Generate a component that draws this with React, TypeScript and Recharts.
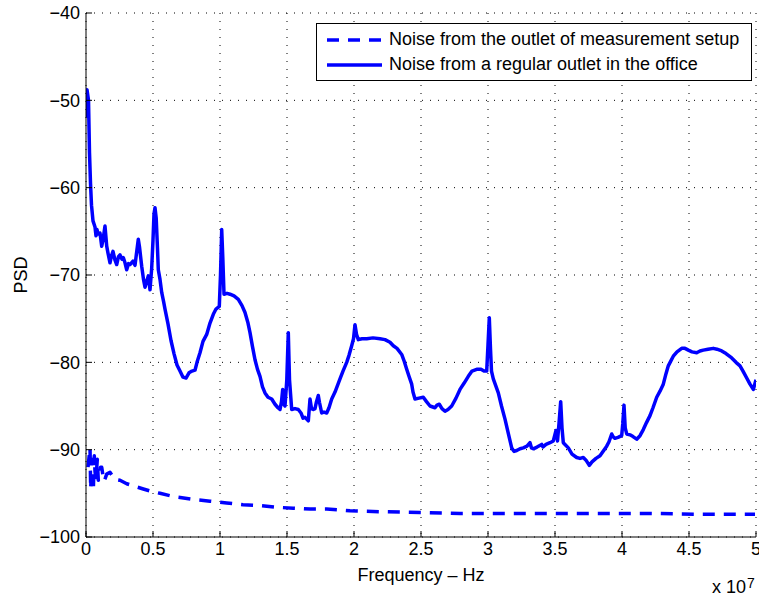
import React from "react";
import {
  LineChart,
  Line,
  XAxis,
  YAxis,
  CartesianGrid,
  Legend,
  Label,
} from "recharts";

const FONT = "'Liberation Sans', Arial, Helvetica, sans-serif";
const BLUE = "#0000ff";

// x in units of 10^7 Hz, as on the axis
const xTicks = [0, 0.5, 1, 1.5, 2, 2.5, 3, 3.5, 4, 4.5, 5];
const yTicks = [-100, -90, -80, -70, -60, -50, -40];

const setupName = "Noise from the outlet of measurement setup";
const officeName = "Noise from a regular outlet in the office";
const legendOrder = [setupName, officeName];

const officeFreq = [
  0, 0.0075, 0.0187, 0.0261, 0.0336, 0.041, 0.0522, 0.0672, 0.0746, 0.0821,
  0.0896, 0.1045, 0.1172, 0.1269, 0.1418, 0.1545, 0.1642, 0.1791, 0.1903, 0.2015,
  0.2164, 0.2291, 0.2425, 0.2537, 0.2687, 0.2784, 0.291, 0.3037, 0.3172, 0.3284,
  0.3507, 0.3657, 0.3769, 0.3903, 0.3993, 0.4157, 0.4291, 0.4403, 0.4515, 0.4649,
  0.4776, 0.4903, 0.5, 0.5075, 0.5149, 0.5239, 0.5336, 0.5396, 0.5522, 0.5649,
  0.5784, 0.5896, 0.6119, 0.6343, 0.6567, 0.6791, 0.7015, 0.7239, 0.7463, 0.7687,
  0.791, 0.8134, 0.8284, 0.8507, 0.8731, 0.9007, 0.9254, 0.95, 0.9701, 0.9948,
  1.0037, 1.0127, 1.0209, 1.0299, 1.0522, 1.0746, 1.1045, 1.1366, 1.1642, 1.1866,
  1.209, 1.2239, 1.2425, 1.2612, 1.2799, 1.2985, 1.3172, 1.3358, 1.3582, 1.3858,
  1.4104, 1.4328, 1.4478, 1.459, 1.4679, 1.4761, 1.4851, 1.4985, 1.5097, 1.5187,
  1.5351, 1.5597, 1.5843, 1.6045, 1.6194, 1.6343, 1.659, 1.6716, 1.6828, 1.6963,
  1.709, 1.7201, 1.7336, 1.7425, 1.759, 1.7761, 1.7963, 1.8134, 1.8336, 1.8582,
  1.8955, 1.9179, 1.9455, 1.9627, 1.9828, 1.9963, 2.0075, 2.0187, 2.0321, 2.0597,
  2.0948, 2.1418, 2.194, 2.2313, 2.2687, 2.2933, 2.3209, 2.356, 2.3731, 2.3933,
  2.4104, 2.4306, 2.4403, 2.4552, 2.4851, 2.5172, 2.541, 2.5672, 2.6045, 2.6194,
  2.6366, 2.6567, 2.6791, 2.7015, 2.7291, 2.7612, 2.791, 2.8209, 2.853, 2.8806,
  2.9157, 2.9478, 2.9701, 2.9903, 3.0, 3.0097, 3.0187, 3.0261, 3.0396, 3.0769,
  3.1007, 3.1269, 3.1493, 3.1769, 3.194, 3.2142, 3.2388, 3.2634, 3.291, 3.3134,
  3.3246, 3.3381, 3.3657, 3.4007, 3.4104, 3.4328, 3.4627, 3.4873, 3.5075, 3.5187,
  3.5299, 3.5425, 3.5522, 3.5619, 3.5746, 3.5993, 3.6269, 3.6619, 3.6866, 3.7112,
  3.7313, 3.756, 3.7761, 3.806, 3.8358, 3.8582, 3.8858, 3.903, 3.9231, 3.9328,
  3.9478, 3.9701, 3.9978, 4.006, 4.0149, 4.0239, 4.0351, 4.0597, 4.0821, 4.1097,
  4.1343, 4.159, 4.1828, 4.209, 4.2313, 4.259, 4.2836, 4.3082, 4.3284, 4.3455,
  4.3657, 4.3828, 4.4104, 4.4455, 4.4701, 4.4948, 4.5224, 4.5575, 4.5821, 4.6067,
  4.6418, 4.6813, 4.709, 4.744, 4.7761, 4.8187, 4.8507, 4.8806, 4.903, 4.9306,
  4.9552, 4.9799, 5.0,
];

const officePsd = [
  -52, -48.8, -50, -56, -59.5, -62, -63.8, -64.5, -65.5, -64.8,
  -65.3, -65.2, -66.7, -66, -64.4, -66.7, -67.5, -68.6, -67.8, -67.3,
  -68.3, -68.8, -67.9, -67.7, -68.2, -68, -68.6, -69.4, -68.7, -68.8,
  -68.4, -68.9, -67.5, -65.9, -66.8, -69, -70.5, -71.4, -70.8, -70.1,
  -71.7, -69.2, -66, -63, -62.3, -63.5, -67, -69.4, -70.5, -72,
  -73, -73.9, -75.6, -77.5, -79, -80.3, -81, -81.7, -81.8, -81.2,
  -81, -80.9, -80, -78.9, -77.6, -76.8, -75.5, -74.5, -73.9, -73.6,
  -70, -64.8, -68, -72.2, -72.1, -72.2, -72.4, -72.8, -73.5, -74.3,
  -75.5, -76.6, -78.2, -79.7, -80.8, -81.6, -82.8, -83.5, -84, -84.2,
  -84.8, -85.2, -85.4, -84.5, -83.1, -84.8, -85, -82, -76.6, -82,
  -85.4, -85.3, -85.4, -85.8, -86.4, -86.3, -86.7, -84.2, -85.3, -85.4,
  -85.3, -84.5, -83.8, -84.6, -85.8, -85.7, -85.8, -85.2, -84.2, -83.4,
  -81.9, -81, -80, -79.2, -78.1, -77.3, -75.7, -76.8, -77.4, -77.3,
  -77.3, -77.2, -77.3, -77.4, -77.7, -78.1, -78.4, -79.1, -79.8, -80.8,
  -81.6, -82.5, -83.4, -84.2, -84.1, -84, -84.5, -85, -85.2, -84.9,
  -84.8, -85.3, -85.6, -85.4, -85, -84.1, -83.1, -82.4, -81.6, -81,
  -80.8, -80.8, -81, -81, -78, -74.9, -78.5, -81, -81.9, -83.5,
  -85, -86.5, -88, -89.8, -90.2, -90.1, -89.9, -89.8, -89.6, -89.2,
  -89.8, -89.9, -89.7, -89.4, -89.7, -89.4, -89.2, -89, -87.8, -89,
  -87, -84.5, -87.5, -89.2, -89.4, -89.8, -90.5, -90.9, -91, -90.9,
  -91.2, -91.8, -91.4, -91, -90.7, -90.2, -89.6, -89.1, -88.2, -88.5,
  -88.7, -88.6, -88.4, -87, -84.9, -87.5, -88.2, -88.3, -88.5, -88.8,
  -88.4, -87.7, -86.9, -86.1, -85.2, -84, -83.3, -82.5, -81.3, -80.4,
  -79.8, -79.3, -78.8, -78.4, -78.4, -78.6, -78.8, -78.9, -78.7, -78.6,
  -78.5, -78.4, -78.5, -78.7, -79, -79.5, -80, -80.4, -81, -81.8,
  -82.5, -83.1, -82,
];

const setupFreq = [
  0.0149, 0.0299, 0.0351, 0.0425, 0.0485, 0.0545, 0.0619, 0.0672, 0.0746, 0.0843,
  0.0918, 0.0993, 0.1082, 0.1172, 0.1269, 0.1343, 0.1455, 0.1545, 0.1791, 0.2164,
  0.2537, 0.3037, 0.3657, 0.4276, 0.4925, 0.5522, 0.6642, 0.8007, 0.9254, 1.05,
  1.1716, 1.2985, 1.4254, 1.547, 1.6716, 1.7963, 1.9701, 2.194, 2.4925, 2.791,
  3.0896, 3.4627, 3.8358, 4.209, 4.5821, 4.9925,
];

const setupPsd = [
  -92, -89.8, -94.5, -91.1, -93, -94.7, -90.7, -92.5, -93.4, -91.1,
  -93.5, -93, -92, -92, -93, -93.6, -93.2, -92.8, -92.6, -93.4,
  -93.5, -93.9, -94.2, -94.5, -94.8, -95, -95.4, -95.7, -95.9, -96.1,
  -96.3, -96.4, -96.6, -96.7, -96.8, -96.8, -97, -97.1, -97.2, -97.3,
  -97.3, -97.3, -97.3, -97.3, -97.4, -97.4,
];

const officeData = officeFreq.map((f, i) => ({ f, psd: officePsd[i] }));
const setupData = setupFreq.map((f, i) => ({ f, psd: setupPsd[i] }));

function formatY(v: number) {
  return v < 0 ? `\u2212${Math.abs(v)}` : `${v}`;
}

function PsdLabel(props: any) {
  const vb = props.viewBox || {};
  const cx = vb.x + 21;
  const cy = vb.y + vb.height / 2;
  return (
    <text
      x={cx}
      y={cy}
      transform={`rotate(-90 ${cx} ${cy})`}
      textAnchor="middle"
      dominantBaseline="central"
      fontSize={18}
      fontFamily={FONT}
      fill="#000"
    >
      PSD
    </text>
  );
}

function FreqLabel(props: any) {
  const vb = props.viewBox || {};
  const right = vb.x + vb.width;
  return (
    <g fontFamily={FONT} fill="#000">
      <text x={vb.x + vb.width / 2} y={vb.y + 44} textAnchor="middle" fontSize={18}>
        Frequency – Hz
      </text>
      <text x={right - 10} y={vb.y + 56} textAnchor="end" fontSize={18}>
        x 10
      </text>
      <text x={right - 9} y={vb.y + 51} textAnchor="start" fontSize={14}>
        7
      </text>
    </g>
  );
}

function renderLegend(props: any) {
  const payload = [...(props.payload || [])].sort(
    (a: any, b: any) => legendOrder.indexOf(a.value) - legendOrder.indexOf(b.value)
  );
  return (
    <div
      style={{
        boxSizing: "border-box",
        width: 436,
        height: 58,
        border: "1px solid #000",
        background: "#fff",
        paddingTop: 3,
        fontFamily: FONT,
        fontSize: 18,
        color: "#000",
      }}
    >
      {payload.map((entry: any) => (
        <div
          key={entry.value}
          style={{ display: "flex", alignItems: "center", height: 25, whiteSpace: "nowrap" }}
        >
          <svg width={72} height={10} style={{ flex: "none" }}>
            <line
              x1={10}
              x2={65}
              y1={5}
              y2={5}
              stroke={entry.color}
              strokeWidth={3.5}
              strokeDasharray={entry.payload?.strokeDasharray}
            />
          </svg>
          <span>{entry.value}</span>
        </div>
      ))}
    </div>
  );
}

export default function App() {
  return (
    <div style={{ position: "absolute", left: 0, top: 0, width: 759, height: 597, background: "#fff" }}>
      <LineChart
        width={759}
        height={597}
        margin={{ top: 13, right: 3, bottom: 0, left: 0 }}
        style={{ fontFamily: FONT }}
      >
        <CartesianGrid stroke="#000" strokeDasharray="1 7" />
        <XAxis
          type="number"
          dataKey="f"
          domain={[0, 5]}
          ticks={xTicks}
          interval={0}
          allowDataOverflow
          height={60}
          tickSize={-6}
          tickMargin={11}
          axisLine={{ stroke: "#000" }}
          tickLine={{ stroke: "#000" }}
          tick={{ fontSize: 18, fill: "#000", fontFamily: FONT }}
        >
          <Label content={FreqLabel} />
        </XAxis>
        <XAxis
          xAxisId="top"
          orientation="top"
          type="number"
          dataKey="f"
          domain={[0, 5]}
          ticks={xTicks}
          interval={0}
          allowDataOverflow
          height={0}
          tickSize={-6}
          tickFormatter={() => ""}
          axisLine={{ stroke: "#000" }}
          tickLine={{ stroke: "#000" }}
        />
        <YAxis
          type="number"
          domain={[-100, -40]}
          ticks={yTicks}
          interval={0}
          allowDataOverflow
          width={86}
          tickSize={-6}
          tickMargin={12}
          tickFormatter={formatY}
          axisLine={{ stroke: "#000" }}
          tickLine={{ stroke: "#000" }}
          tick={{ fontSize: 18, fill: "#000", fontFamily: FONT }}
        >
          <Label content={PsdLabel} />
        </YAxis>
        <YAxis
          yAxisId="right"
          orientation="right"
          type="number"
          domain={[-100, -40]}
          ticks={yTicks}
          interval={0}
          allowDataOverflow
          width={0}
          tickSize={-6}
          tickFormatter={() => ""}
          axisLine={{ stroke: "#000" }}
          tickLine={{ stroke: "#000" }}
        />
        <Legend
          layout="vertical"
          align="center"
          verticalAlign="middle"
          content={renderLegend}
          wrapperStyle={{ top: 23, left: 316, width: 436, height: 58 }}
        />
        <Line
          data={setupData}
          name={setupName}
          dataKey="psd"
          type="linear"
          stroke={BLUE}
          strokeWidth={3.5}
          strokeDasharray="12 9"
          strokeLinejoin="round"
          dot={false}
          activeDot={false}
          isAnimationActive={false}
        />
        <Line
          data={officeData}
          name={officeName}
          dataKey="psd"
          type="linear"
          stroke={BLUE}
          strokeWidth={3.5}
          strokeLinejoin="round"
          dot={false}
          activeDot={false}
          isAnimationActive={false}
        />
      </LineChart>
    </div>
  );
}
